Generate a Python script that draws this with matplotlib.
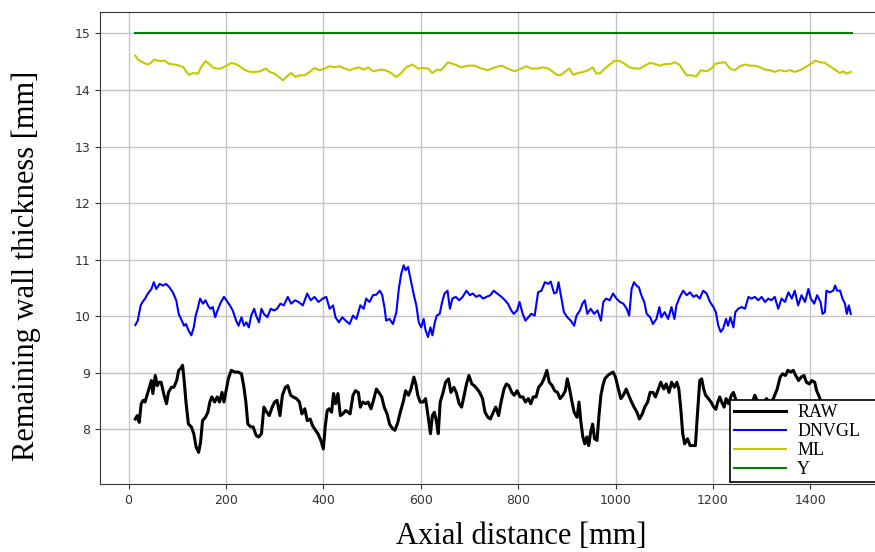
import matplotlib
matplotlib.use("Agg")
import matplotlib.pyplot as plt

# ---------------- data ----------------
RAW_X = [14, 18, 22, 26, 30, 34, 38, 43, 47, 50, 55, 59, 63, 67, 73, 78, 82, 88, 93, 99,
         103, 107, 111, 114, 118, 123, 129, 134, 139, 144, 148, 152, 158, 163, 167, 171, 177, 182, 187, 192,
         196, 201, 205, 211, 218, 225, 232, 237, 241, 245, 251, 256, 262, 267, 273, 278, 284, 289, 295, 300,
         305, 311, 316, 322, 327, 333, 338, 345, 351, 356, 362, 367, 373, 378, 384, 389, 395, 400, 404, 408,
         412, 417, 421, 425, 430, 435, 440, 446, 451, 455, 461, 466, 472, 476, 481, 487, 492, 498, 503, 509,
         514, 520, 525, 531, 536, 542, 547, 553, 558, 564, 569, 575, 580, 586, 590, 594, 599, 605, 610, 616,
         620, 624, 628, 632, 636, 640, 646, 651, 657, 662, 668, 673, 679, 684, 690, 694, 699, 705, 710, 716,
         721, 727, 732, 738, 743, 749, 754, 760, 765, 771, 776, 781, 787, 792, 798, 804, 810, 815, 821, 826,
         831, 837, 842, 848, 853, 859, 864, 870, 875, 881, 886, 892, 897, 901, 905, 910, 915, 921, 925, 929,
         933, 937, 941, 945, 949, 953, 957, 962, 966, 970, 974, 978, 984, 989, 995, 1000, 1005, 1011, 1016, 1022,
         1027, 1033, 1038, 1044, 1049, 1055, 1060, 1066, 1071, 1077, 1082, 1088, 1093, 1099, 1104, 1110, 1115, 1121, 1126, 1130,
         1134, 1138, 1142, 1148, 1153, 1159, 1164, 1168, 1173, 1177, 1181, 1185, 1190, 1196, 1201, 1206, 1210, 1214, 1218, 1223,
         1227, 1232, 1238, 1242, 1250, 1258, 1266, 1274, 1280, 1286, 1292, 1300, 1310, 1317, 1324, 1332, 1338, 1343, 1349, 1354,
         1360, 1365, 1370, 1376, 1381, 1387, 1392, 1398, 1403, 1409, 1413, 1417, 1421, 1430, 1440, 1450, 1460, 1470, 1478, 1485]
RAW_Y = [8.18, 8.24, 8.12, 8.45, 8.51, 8.48, 8.60, 8.74, 8.86, 8.63, 8.95, 8.77, 8.83, 8.83, 8.60, 8.45, 8.65, 8.74, 8.74, 8.86,
         9.04, 9.07, 9.13, 8.89, 8.48, 8.09, 8.04, 7.92, 7.68, 7.59, 7.77, 8.15, 8.21, 8.30, 8.48, 8.57, 8.48, 8.57, 8.48, 8.65,
         8.48, 8.71, 8.89, 9.04, 9.01, 9.01, 8.98, 8.74, 8.48, 8.09, 8.04, 8.04, 7.89, 7.86, 7.92, 8.39, 8.30, 8.24, 8.39, 8.48,
         8.51, 8.24, 8.60, 8.74, 8.77, 8.60, 8.57, 8.54, 8.48, 8.27, 8.36, 8.15, 8.18, 8.06, 7.98, 7.92, 7.80, 7.65, 8.05, 8.33,
         8.36, 8.30, 8.63, 8.45, 8.63, 8.24, 8.27, 8.33, 8.30, 8.27, 8.60, 8.68, 8.65, 8.39, 8.48, 8.45, 8.48, 8.36, 8.51, 8.71,
         8.65, 8.57, 8.39, 8.27, 8.09, 8.01, 7.98, 8.12, 8.30, 8.48, 8.68, 8.60, 8.71, 8.92, 8.80, 8.60, 8.48, 8.48, 8.54, 8.18,
         7.92, 8.24, 8.30, 8.15, 7.92, 8.48, 8.65, 8.83, 8.89, 8.65, 8.74, 8.65, 8.45, 8.39, 8.63, 8.80, 8.95, 8.80, 8.77, 8.71,
         8.65, 8.54, 8.30, 8.21, 8.18, 8.30, 8.39, 8.24, 8.48, 8.71, 8.80, 8.77, 8.65, 8.60, 8.68, 8.57, 8.57, 8.48, 8.54, 8.45,
         8.57, 8.57, 8.74, 8.80, 8.89, 9.04, 8.83, 8.77, 8.68, 8.65, 8.54, 8.60, 8.68, 8.89, 8.74, 8.51, 8.30, 8.21, 8.48, 8.12,
         7.86, 7.74, 7.86, 7.71, 7.95, 8.09, 7.83, 7.80, 8.24, 8.60, 8.77, 8.89, 8.95, 8.98, 9.01, 8.92, 8.74, 8.54, 8.60, 8.71,
         8.60, 8.48, 8.39, 8.30, 8.18, 8.27, 8.39, 8.48, 8.65, 8.65, 8.57, 8.71, 8.83, 8.71, 8.80, 8.65, 8.83, 8.74, 8.83, 8.71,
         8.36, 7.92, 7.74, 7.83, 7.71, 7.71, 7.71, 8.24, 8.86, 8.89, 8.71, 8.60, 8.55, 8.48, 8.40, 8.35, 8.48, 8.57, 8.48, 8.39,
         8.54, 8.45, 8.60, 8.65, 8.45, 8.38, 8.42, 8.48, 8.45, 8.60, 8.48, 8.42, 8.54, 8.46, 8.54, 8.71, 8.92, 8.98, 8.95, 9.04,
         9.01, 9.04, 8.95, 8.86, 8.92, 8.95, 8.83, 8.80, 8.86, 8.83, 8.68, 8.60, 8.51, 8.40, 8.32, 8.38, 8.28, 8.33, 8.25, 8.30]

DNVGL_X = [14, 19, 25, 29, 34, 40, 47, 52, 57, 64, 71, 77, 84, 91, 98, 103, 108, 114, 118, 123,
           129, 134, 138, 142, 147, 153, 158, 163, 168, 173, 178, 184, 190, 196, 201, 208, 214, 221, 226, 232,
           237, 242, 247, 252, 258, 262, 268, 273, 278, 285, 292, 299, 305, 312, 319, 327, 334, 342, 349, 358,
           367, 374, 382, 390, 399, 406, 413, 420, 425, 432, 439, 446, 454, 461, 468, 476, 483, 488, 495, 502,
           509, 516, 521, 526, 529, 536, 543, 550, 555, 560, 565, 569, 574, 579, 586, 591, 596, 601, 606, 610,
           615, 620, 624, 629, 633, 639, 644, 649, 655, 660, 665, 672, 679, 686, 694, 701, 707, 714, 721, 728,
           735, 743, 750, 757, 766, 773, 779, 786, 791, 798, 803, 809, 815, 821, 827, 834, 841, 848, 855, 862,
           867, 874, 879, 883, 889, 894, 901, 908, 915, 920, 927, 932, 937, 942, 949, 956, 963, 970, 975, 981,
           988, 995, 1002, 1009, 1016, 1023, 1028, 1033, 1038, 1043, 1048, 1053, 1059, 1064, 1071, 1077, 1084, 1090, 1094, 1101,
           1108, 1115, 1121, 1125, 1132, 1139, 1146, 1153, 1160, 1166, 1173, 1180, 1187, 1194, 1201, 1206, 1211, 1216, 1221, 1227,
           1231, 1236, 1242, 1246, 1252, 1259, 1266, 1273, 1279, 1286, 1293, 1300, 1307, 1314, 1320, 1327, 1334, 1341, 1348, 1355,
           1362, 1368, 1375, 1382, 1389, 1396, 1401, 1408, 1414, 1421, 1425, 1430, 1433, 1440, 1447, 1451, 1455, 1461, 1466, 1471,
           1475, 1479, 1483]
DNVGL_Y = [9.84, 9.92, 10.19, 10.25, 10.31, 10.40, 10.48, 10.60, 10.48, 10.57, 10.54, 10.57, 10.51, 10.42, 10.28, 10.04, 9.95, 9.83, 9.86, 9.75,
           9.66, 9.80, 10.01, 10.13, 10.31, 10.22, 10.28, 10.19, 10.13, 10.16, 9.98, 10.13, 10.25, 10.34, 10.28, 10.19, 10.10, 9.92, 9.83, 9.98,
           9.83, 9.89, 9.80, 10.01, 10.13, 10.01, 9.89, 10.13, 10.04, 9.98, 10.13, 10.10, 10.13, 10.22, 10.19, 10.34, 10.22, 10.28, 10.25, 10.19,
           10.40, 10.28, 10.34, 10.25, 10.31, 10.34, 10.13, 10.19, 9.98, 9.89, 9.98, 9.92, 9.86, 10.01, 9.95, 10.19, 10.13, 10.31, 10.25, 10.37,
           10.38, 10.45, 10.37, 10.13, 9.92, 9.95, 9.86, 10.07, 10.48, 10.75, 10.90, 10.81, 10.87, 10.66, 10.37, 10.19, 9.89, 9.80, 9.95, 9.75,
           9.63, 9.80, 9.66, 9.89, 10.01, 10.04, 10.25, 10.40, 10.45, 10.13, 10.31, 10.34, 10.28, 10.34, 10.45, 10.37, 10.40, 10.34, 10.37, 10.31,
           10.34, 10.37, 10.45, 10.40, 10.34, 10.28, 10.22, 10.10, 10.04, 10.10, 10.25, 10.05, 9.92, 9.98, 10.04, 10.01, 10.42, 10.45, 10.60, 10.57,
           10.61, 10.40, 10.42, 10.60, 10.31, 10.07, 9.98, 9.92, 9.83, 10.01, 10.10, 10.22, 10.28, 10.04, 10.13, 10.04, 10.10, 9.92, 10.25, 10.31,
           10.28, 10.40, 10.31, 10.25, 10.22, 10.13, 10.01, 10.48, 10.60, 10.54, 10.51, 10.37, 10.25, 10.04, 9.98, 9.86, 9.95, 10.16, 9.98, 10.07,
           9.95, 10.16, 9.95, 10.19, 10.34, 10.45, 10.37, 10.42, 10.34, 10.37, 10.31, 10.45, 10.40, 10.25, 10.16, 10.07, 9.83, 9.72, 9.78, 9.95,
           9.83, 9.98, 9.80, 10.07, 10.13, 10.16, 10.13, 10.34, 10.31, 10.34, 10.28, 10.34, 10.25, 10.31, 10.28, 10.34, 10.13, 10.31, 10.25, 10.42,
           10.31, 10.45, 10.19, 10.37, 10.25, 10.48, 10.31, 10.22, 10.37, 10.25, 10.04, 10.07, 10.45, 10.42, 10.45, 10.54, 10.45, 10.45, 10.31, 10.22,
           10.04, 10.19, 10.04]

ML_X = [14, 19, 29, 40, 47, 53, 64, 74, 84, 95, 105, 113, 119, 124, 132, 143, 149, 158, 166, 173,
        180, 190, 199, 211, 223, 231, 240, 250, 261, 270, 282, 290, 300, 309, 317, 325, 334, 343, 351, 362,
        372, 382, 392, 403, 413, 423, 433, 444, 454, 464, 473, 483, 492, 502, 512, 522, 533, 541, 550, 560,
        570, 583, 594, 605, 615, 624, 633, 642, 656, 670, 684, 697, 711, 725, 738, 752, 766, 779, 793, 807,
        817, 827, 838, 851, 862, 872, 879, 887, 896, 905, 913, 923, 934, 944, 953, 961, 969, 978, 988, 999,
        1009, 1019, 1029, 1040, 1050, 1060, 1071, 1081, 1091, 1101, 1112, 1122, 1131, 1139, 1146, 1156, 1166, 1175, 1187, 1197,
        1204, 1214, 1225, 1235, 1245, 1255, 1266, 1276, 1286, 1297, 1307, 1317, 1327, 1338, 1348, 1358, 1368, 1379, 1389, 1399,
        1410, 1420, 1430, 1440, 1451, 1460, 1468, 1474, 1483]
ML_Y = [14.61, 14.54, 14.49, 14.45, 14.49, 14.54, 14.51, 14.52, 14.46, 14.45, 14.43, 14.40, 14.32, 14.27, 14.30, 14.29, 14.40, 14.51, 14.46, 14.40,
        14.38, 14.38, 14.42, 14.48, 14.45, 14.40, 14.35, 14.32, 14.32, 14.33, 14.38, 14.32, 14.29, 14.23, 14.17, 14.24, 14.30, 14.23, 14.26, 14.26,
        14.32, 14.39, 14.35, 14.38, 14.42, 14.40, 14.42, 14.38, 14.35, 14.38, 14.40, 14.36, 14.40, 14.33, 14.35, 14.36, 14.33, 14.29, 14.23, 14.30,
        14.40, 14.45, 14.38, 14.39, 14.38, 14.30, 14.36, 14.35, 14.49, 14.45, 14.40, 14.43, 14.43, 14.38, 14.35, 14.40, 14.43, 14.38, 14.33, 14.38,
        14.42, 14.38, 14.38, 14.40, 14.38, 14.32, 14.27, 14.26, 14.32, 14.38, 14.27, 14.30, 14.32, 14.35, 14.40, 14.29, 14.30, 14.38, 14.45, 14.52,
        14.51, 14.46, 14.40, 14.38, 14.38, 14.43, 14.48, 14.46, 14.43, 14.46, 14.46, 14.49, 14.45, 14.35, 14.26, 14.26, 14.24, 14.35, 14.33, 14.38,
        14.46, 14.48, 14.49, 14.38, 14.35, 14.42, 14.45, 14.43, 14.43, 14.40, 14.36, 14.35, 14.32, 14.35, 14.33, 14.35, 14.32, 14.35, 14.40, 14.45,
        14.52, 14.49, 14.48, 14.42, 14.36, 14.30, 14.33, 14.29, 14.32]

Y_X = [14, 1485]
Y_VALS = [15.0, 15.0]

SERIES_LABELS = ["RAW", "DNVGL", "ML", "Y"]
X_TICKS = [0, 200, 400, 600, 800, 1000, 1200, 1400]
Y_TICKS = [8, 9, 10, 11, 12, 13, 14, 15]

# ---------------- figure ----------------
fig = plt.figure(figsize=(8.75, 5.52), dpi=100)
ax = fig.add_axes([0.1143, 0.1232, 0.9, 0.8551])

ax.plot(RAW_X, RAW_Y, color="black", lw=2.2, label=SERIES_LABELS[0])
ax.plot(DNVGL_X, DNVGL_Y, color="#0000ff", lw=1.5, label=SERIES_LABELS[1])
ax.plot(ML_X, ML_Y, color="#c8c800", lw=1.5, label=SERIES_LABELS[2])
ax.plot(Y_X, Y_VALS, color="#008000", lw=1.5, label=SERIES_LABELS[3])

ax.set_xlim(-58.5, 1558.5)
ax.set_ylim(7.03, 15.38)
ax.set_xticks(X_TICKS)
ax.set_yticks(Y_TICKS)
ax.grid(True, color="#c4c4c4", lw=1.0)
ax.set_axisbelow(True)
ax.tick_params(labelsize=9, colors="#333333")
for s in ax.spines.values():
    s.set_color("#333333")

serif = ["Liberation Serif", "DejaVu Serif"]
fig.text(0.5954, 8 / 552, "Axial distance [mm]", family=serif, fontsize=22,
         ha="center", va="baseline")
fig.text(0.030, 0.518, "Remaining wall thickness [mm]", family=serif, fontsize=22,
         rotation=90, ha="center", va="center")

leg = ax.legend(loc="upper left", bbox_to_anchor=(730 / 875, 0.0, 0.18, 1 - 400 / 552),
                bbox_transform=fig.transFigure, mode="expand", borderaxespad=0,
                prop={"family": serif, "size": 13}, fancybox=False, framealpha=1,
                edgecolor="black", labelspacing=0.12, handlelength=2.9,
                handletextpad=0.6, borderpad=0.22)
leg.get_frame().set_linewidth(1.2)
leg.set_zorder(10)

fig.savefig("out.png", dpi=100)
